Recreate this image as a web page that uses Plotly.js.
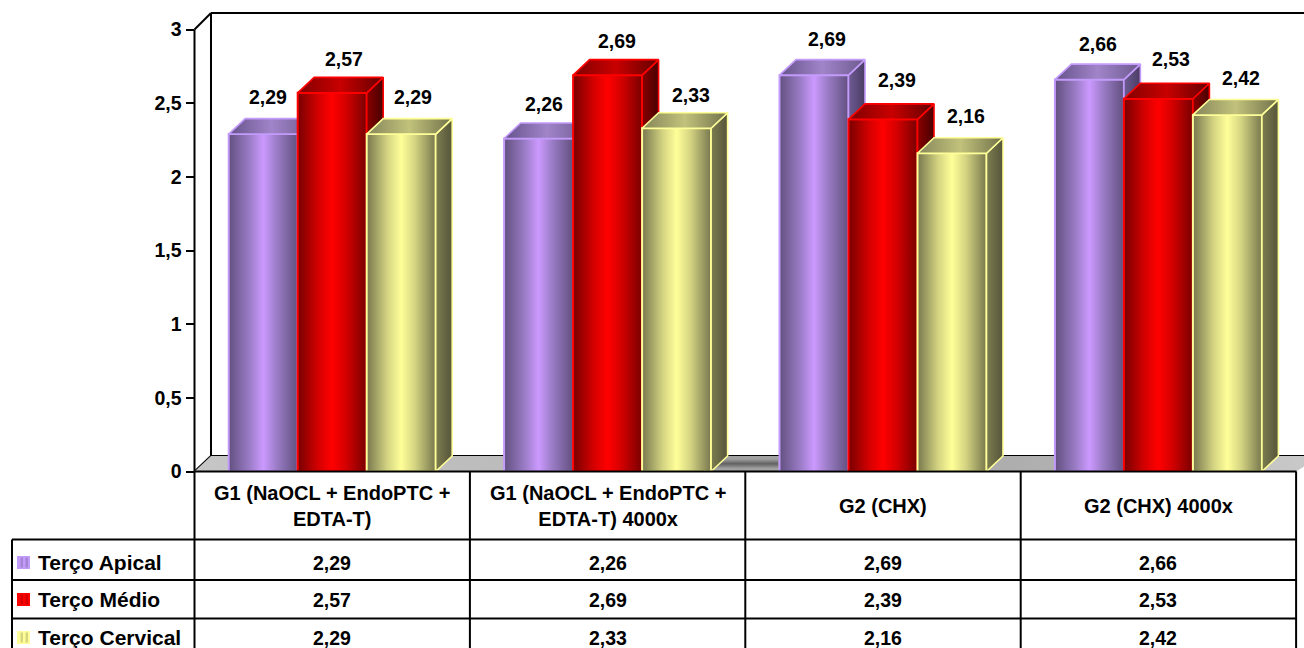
<!DOCTYPE html>
<html>
<head>
<meta charset="utf-8">
<script src="https://cdn.plot.ly/plotly-3.0.1.min.js"></script>
<style>html,body{margin:0;padding:0;background:#fff;overflow:hidden}#chart{width:1304px;height:648px}</style>
</head>
<body>
<div id="chart"></div>
<script>
// Group labels and mean scores per root third
const categories = ['G1 (NaOCL + EndoPTC +<br>EDTA-T)', 'G1 (NaOCL + EndoPTC +<br>EDTA-T) 4000x', 'G2 (CHX)', 'G2 (CHX) 4000x'];
const seriesNames = ['Terço Apical', 'Terço Médio', 'Terço Cervical'];
const apical = [2.29, 2.26, 2.69, 2.66];
const medio = [2.57, 2.69, 2.39, 2.53];
const cervical = [2.29, 2.33, 2.16, 2.42];
const yTicks = [0, 0.5, 1, 1.5, 2, 2.5, 3];
const yTickText = ['0', '0,5', '1', '1,5', '2', '2,5', '3'];

// Page geometry, in pixels
const W = 1304, H = 648;
const LEFT = 194.5, BASE = 471.5, TOP3 = 29.5, WALLTOP = 13;
const CELL = 275.4, BARPX = 69, DEPTHX = 16.5, DEPTHY = 15.5;
const TABLE_LEFT = 12, TABLE_RIGHT = 1296.5;
const ROWS = [539.5, 580, 618.5];
const ROW_CENTERS = [562.5, 599.5, 637.5];

const PXY = (BASE - TOP3) / 3;
const dx = DEPTHX / CELL, dy = DEPTHY / PXY, barW = BARPX / CELL;
const xMax = (W - LEFT) / CELL, yMax = (BASE - WALLTOP) / PXY;
const fmt = v => v.toFixed(2).replace('.', ',');
const px = x => x / W, py = y => 1 - y / H;

// Colour ramps for each series: front face, top face, side face
const styles = [
  {line: '#c39bfa', front: ['#62507f', '#9a7cc6', '#cc99ff', '#9a7cc6', '#62507f'], top: ['#65538a', '#a184c9', '#6c5a8e'], side: ['#6e5b94', '#4a3c63']},
  {line: '#ff0000', front: ['#780000', '#d40000', '#ff0000', '#d40000', '#780000'], top: ['#800000', '#c80000', '#620000'], side: ['#8a0000', '#480000']},
  {line: '#ffff99', front: ['#77774e', '#d4d482', '#ffff99', '#d4d482', '#77774e'], top: ['#85855a', '#c2c27c', '#70704a'], side: ['#7d7d50', '#55553a']}
];
const seriesValues = [apical, medio, cervical];
const ramp = cs => cs.map((c, i) => [i / (cs.length - 1), c]);

const traces = [];

// Floor of the chart box, darkening towards the middle
traces.push({
  type: 'scatter', mode: 'none', x: [0, dx, xMax + dx, 4], y: [0, dy, dy, 0],
  fill: 'toself', hoverinfo: 'skip', showlegend: false, xaxis: 'x', yaxis: 'y',
  fillgradient: {type: 'horizontal', colorscale: [[0, '#c6c6c6'], [0.27, '#bcbcbc'], [0.48, '#a0a0a0'], [0.76, '#b0b0b0'], [1, '#cacaca']]}
});
// Soft contact shadow on the floor at the centre of the chart
traces.push({
  type: 'scatter', mode: 'none', x: [1.88, 2.12, 2.12, 1.88], y: [0.02, 0.02, 0.085, 0.085],
  fill: 'toself', hoverinfo: 'skip', showlegend: false, xaxis: 'x', yaxis: 'y',
  fillgradient: {type: 'vertical', colorscale: [[0, 'rgba(70,70,70,0)'], [0.5, 'rgba(70,70,70,0.7)'], [1, 'rgba(70,70,70,0)']]}
});

seriesValues.forEach((vals, s) => {
  const axN = String(s + 2);
  const st = styles[s];
  const left = i => i + 0.5 - 1.5 * barW + s * barW;
  const face = (xs, ys, cs) => ({
    type: 'scatter', mode: 'lines', x: xs, y: ys, fill: 'toself',
    line: {color: st.line, width: 1.6}, hoverinfo: 'skip', showlegend: false,
    fillgradient: {type: 'horizontal', colorscale: ramp(cs)},
    xaxis: 'x' + axN, yaxis: 'y' + axN
  });
  // Extruded top and right side of every bar
  vals.forEach((v, i) => {
    const a = left(i), b = a + barW;
    traces.push(face([b, b + dx, b + dx, b, b], [0, dy, v + dy, v, 0], st.side));
    traces.push(face([a, a + dx, b + dx, b, a], [v, v + dy, v + dy, v, v], st.top));
  });
  // Front faces; each series sits on its own overlaid axes so it paints over the previous one
  traces.push({
    type: 'bar', name: seriesNames[s],
    x: vals.map((_, i) => left(i)), y: vals, width: barW, offset: 0,
    marker: {color: st.line, line: {color: st.line, width: 2}},
    hoverinfo: 'skip', showlegend: false,
    xaxis: 'x' + axN, yaxis: 'y' + axN
  });
});

const hiddenAxis = extra => Object.assign({visible: false, fixedrange: true}, extra);
const black = {color: '#000', width: 2};
const seg = (x0, y0, x1, y1, layer) => ({
  type: 'line', xref: 'paper', yref: 'paper',
  x0: px(x0), y0: py(y0), x1: px(x1), y1: py(y1), line: black, layer: layer || 'above'
});

// Box edges behind the bars
const shapes = [
  seg(LEFT, TOP3, LEFT, BASE, 'below'),
  seg(LEFT, TOP3, LEFT + DEPTHX, WALLTOP, 'below'),
  seg(LEFT, BASE, LEFT + DEPTHX, BASE - DEPTHY, 'below'),
  seg(LEFT + DEPTHX, WALLTOP, LEFT + DEPTHX, BASE - DEPTHY, 'below'),
  seg(LEFT + DEPTHX, WALLTOP, W, WALLTOP, 'below'),
  seg(LEFT + DEPTHX, BASE - DEPTHY, W, BASE - DEPTHY, 'below'),
  // Data table ruling
  seg(LEFT, BASE, TABLE_RIGHT, BASE),
  seg(TABLE_LEFT, ROWS[0], TABLE_RIGHT, ROWS[0]),
  seg(TABLE_LEFT, ROWS[1], TABLE_RIGHT, ROWS[1]),
  seg(TABLE_LEFT, ROWS[2], TABLE_RIGHT, ROWS[2]),
  seg(TABLE_LEFT, ROWS[0], TABLE_LEFT, H)
];
for (let i = 0; i <= 4; i++) {
  shapes.push(seg(LEFT + i * CELL, BASE, LEFT + i * CELL, H));
}

// Legend swatches in the first table column
styles.forEach((st, s) => {
  const cy = ROW_CENTERS[s];
  shapes.push({
    type: 'rect', xref: 'paper', yref: 'paper', layer: 'above',
    x0: px(17), x1: px(30), y0: py(cy - 6.5), y1: py(cy + 6.5),
    fillcolor: st.line, line: {width: 0}
  });
  [20.5, 25.5].forEach(x => shapes.push({
    type: 'rect', xref: 'paper', yref: 'paper', layer: 'above',
    x0: px(x), x1: px(x + 2.5), y0: py(cy - 5), y1: py(cy + 5),
    fillcolor: st.front[0], opacity: 0.3, line: {width: 0}
  }));
});

const FONT = 'Liberation Sans, Arial, sans-serif';
const textAt = (x, y, text, size, anchor) => ({
  xref: 'paper', yref: 'paper', x: px(x), y: py(y), text: '<b>' + text + '</b>', showarrow: false,
  xanchor: anchor || 'center', yanchor: 'middle', font: {family: FONT, size: size, color: '#000'}
});

const annotations = [];

// Horizontal and vertical nudges for the value labels above the bars
const labelShiftX = [[5, 5, 13, 9], [12, 9, 14, 13], [12, 14, 14, 14]];
const labelShiftY = [[37, 35, 36, 36], [34, 34, 39, 40], [37, 33, 37, 37]];
seriesValues.forEach((vals, s) => vals.forEach((v, i) => {
  annotations.push({
    x: i + 0.5 - 1.5 * barW + (s + 0.5) * barW, y: v, xref: 'x', yref: 'y',
    text: '<b>' + fmt(v) + '</b>', showarrow: false, xanchor: 'center', yanchor: 'middle',
    xshift: labelShiftX[s][i], yshift: labelShiftY[s][i],
    font: {family: FONT, size: 19.5, color: '#000'}
  });
}));

// Data table text
categories.forEach((c, i) => annotations.push(textAt(LEFT + (i + 0.5) * CELL, 505.5, c, 20)));
seriesNames.forEach((n, s) => {
  annotations.push(textAt(36, ROW_CENTERS[s], n, 21, 'left'));
  seriesValues[s].forEach((v, i) => annotations.push(textAt(LEFT + (i + 0.5) * CELL, ROW_CENTERS[s], fmt(v), 19.5)));
});

const layout = {
  width: W, height: H, margin: {l: 0, r: 0, t: 0, b: 0},
  paper_bgcolor: '#fff', plot_bgcolor: 'rgba(0,0,0,0)',
  showlegend: false, barmode: 'overlay',
  xaxis: {domain: [px(LEFT), 1], range: [0, xMax], visible: false, fixedrange: true},
  yaxis: {
    domain: [py(BASE), py(WALLTOP)], range: [0, yMax], fixedrange: true,
    tickmode: 'array', tickvals: yTicks, ticktext: yTickText,
    ticks: 'outside', ticklen: 8, tickwidth: 2, tickcolor: '#000',
    showgrid: false, zeroline: false, showline: false,
    tickfont: {family: FONT, size: 19.5, color: '#000', weight: 'bold'}
  },
  shapes: shapes, annotations: annotations
};
[2, 3, 4].forEach(n => {
  layout['xaxis' + n] = hiddenAxis({overlaying: 'x', range: [0, xMax]});
  layout['yaxis' + n] = hiddenAxis({overlaying: 'y', range: [0, yMax]});
});

Plotly.newPlot('chart', traces, layout, {displayModeBar: false, staticPlot: true}).then(gd => {
  // Plotly bars take a flat fill, so the rounded shading on the front faces is added as SVG gradients
  const svg = gd.querySelector('.main-svg');
  const NS = 'http://www.w3.org/2000/svg';
  let defs = svg.querySelector('defs');
  if (!defs) { defs = document.createElementNS(NS, 'defs'); svg.insertBefore(defs, svg.firstChild); }
  gd.querySelectorAll('.barlayer .trace.bars').forEach((tr, s) => {
    const g = document.createElementNS(NS, 'linearGradient');
    g.setAttribute('id', 'front-shade-' + s);
    styles[s].front.forEach((c, i) => {
      const stop = document.createElementNS(NS, 'stop');
      stop.setAttribute('offset', [0, 0.3, 0.5, 0.7, 1][i]);
      stop.setAttribute('stop-color', c);
      g.appendChild(stop);
    });
    defs.appendChild(g);
    tr.querySelectorAll('.point path').forEach(p => {
      p.style.fill = 'url(#front-shade-' + s + ')';
    });
  });
});
</script>
</body>
</html>
